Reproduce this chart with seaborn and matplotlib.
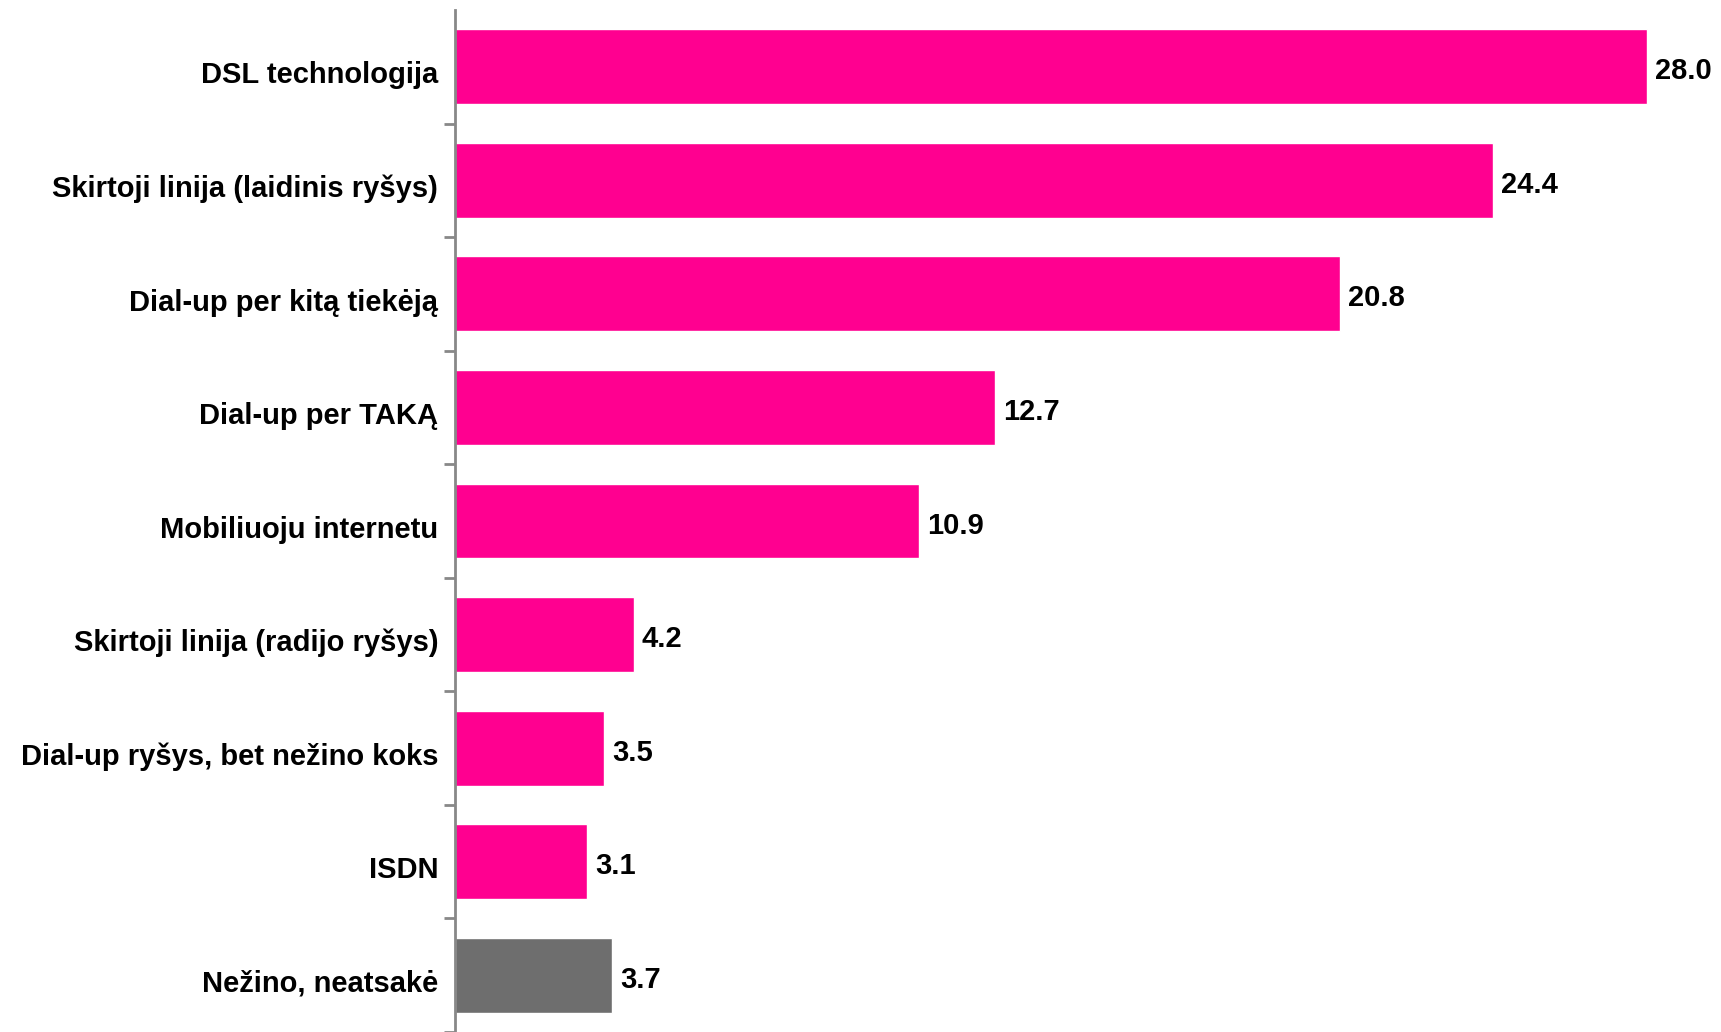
import matplotlib
matplotlib.use("Agg")
import matplotlib.pyplot as plt
import seaborn as sns
import pandas as pd

# Chart data
categories = [
    "DSL technologija",
    "Skirtoji linija (laidinis ryšys)",
    "Dial-up per kitą tiekėją",
    "Dial-up per TAKĄ",
    "Mobiliuoju internetu",
    "Skirtoji linija (radijo ryšys)",
    "Dial-up ryšys, bet nežino koks",
    "ISDN",
    "Nežino, neatsakė",
]
values = [28.0, 24.4, 20.8, 12.7, 10.9, 4.2, 3.5, 3.1, 3.7]
bar_colors = ["#FF0090"] * 8 + ["#6E6E6E"]

sns.set_theme(style="white")
plt.rcParams['font.family'] = ['Liberation Sans', 'DejaVu Sans']

df = pd.DataFrame({"category": categories, "value": values})

fig = plt.figure(figsize=(17.21, 10.32), dpi=100)
ax = fig.add_axes([455 / 1721, 0.0, 1 - 455 / 1721, 1 - 10 / 1032])

sns.barplot(data=df, y="category", x="value", hue="category",
            palette=bar_colors, legend=False, width=0.66, ax=ax,
            saturation=1)

ax.set_xlim(0, 29.75)
ax.set_ylim(len(categories) - 0.5, -0.5)

for i, v in enumerate(values):
    ax.text(v + 0.19, i + 0.04, f"{v:.1f}", va="center", ha="left",
            fontsize=21, fontweight="bold", color="black")

# only left axis, ticks between categories
for side in ["top", "right", "bottom"]:
    ax.spines[side].set_visible(False)
ax.spines["left"].set_color("#888888")
ax.spines["left"].set_linewidth(2)
ax.set_xticks([])
ax.set_xlabel("")
ax.set_ylabel("")

ax.set_yticks([i + 0.05 for i in range(len(categories))])
ax.set_yticklabels(categories, fontsize=21, fontweight="bold", color="black")
ax.tick_params(axis="y", length=0, pad=12)
ax.set_yticks([i - 0.5 for i in range(1, len(categories) + 1)], minor=True)
ax.tick_params(axis="y", which="minor", length=8, width=2, color="#888888",
               direction="out", left=True)

fig.savefig("out.png", dpi=100)
